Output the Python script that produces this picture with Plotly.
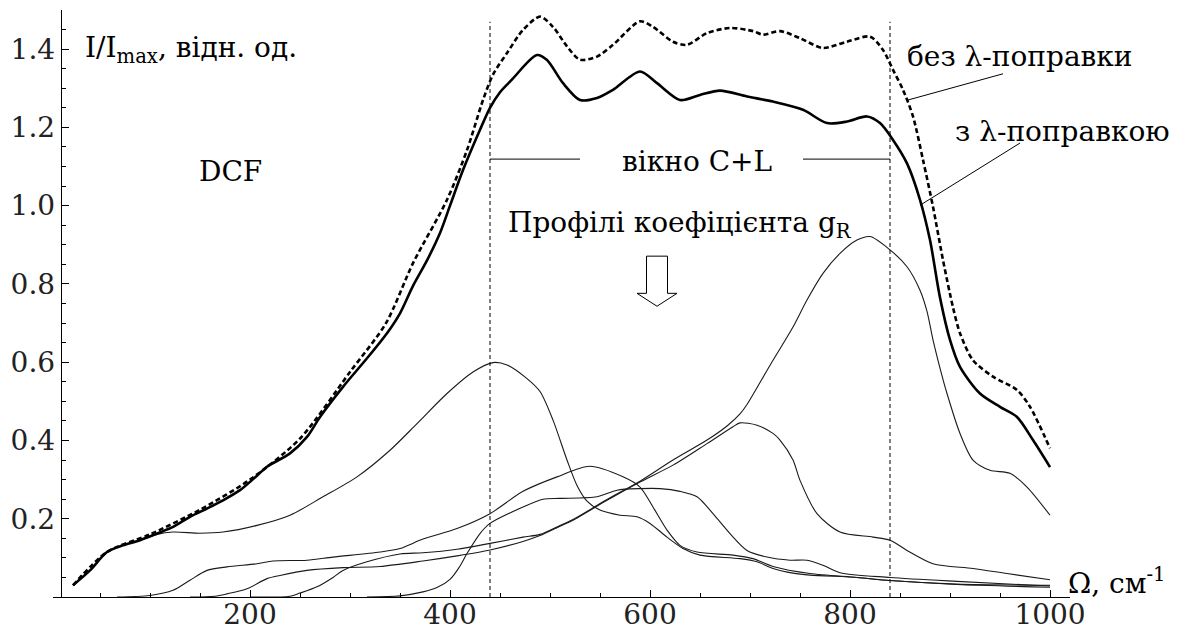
import plotly.graph_objects as go

# ---------------- data ----------------
# thick solid: with lambda-correction
x_corr = [23, 40, 57, 73, 90, 107, 123, 140, 157, 173, 190, 207, 217, 240, 257, 270, 293, 317, 337, 350,
          363, 377, 390, 400, 413, 430, 440, 450, 463, 477, 487, 497, 513, 530, 547, 563, 590, 607, 630,
          650, 670, 697, 723, 753, 777, 797, 817, 830, 843, 857, 870, 880, 890, 900, 910, 930, 950, 967,
          983, 1000]
y_corr = [0.030, 0.068, 0.115, 0.132, 0.145, 0.162, 0.179, 0.205, 0.226, 0.247, 0.273, 0.310, 0.333, 0.367,
          0.409, 0.460, 0.537, 0.610, 0.674, 0.725, 0.795, 0.860, 0.930, 1.000, 1.091, 1.194, 1.250, 1.290,
          1.325, 1.365, 1.385, 1.372, 1.313, 1.270, 1.275, 1.296, 1.343, 1.313, 1.270, 1.283, 1.294, 1.279,
          1.266, 1.245, 1.211, 1.215, 1.228, 1.211, 1.168, 1.108, 1.015, 0.912, 0.765, 0.657, 0.588, 0.520,
          0.486, 0.460, 0.401, 0.332]

# thick dotted: without lambda-correction
x_nocorr = [23, 57, 100, 150, 200, 250, 300, 336, 363, 397, 417, 433, 443, 457, 473, 490, 503, 517, 530,
            547, 563, 590, 603, 623, 637, 657, 680, 703, 713, 730, 750, 773, 797, 820, 833, 843, 853, 863,
            873, 883, 893, 903, 910, 923, 943, 967, 980, 1000]
y_nocorr = [0.030, 0.115, 0.160, 0.223, 0.300, 0.405, 0.575, 0.700, 0.853, 1.015, 1.142, 1.270, 1.335,
            1.390, 1.449, 1.483, 1.457, 1.407, 1.373, 1.381, 1.411, 1.471, 1.457, 1.419, 1.411, 1.441,
            1.454, 1.446, 1.437, 1.446, 1.428, 1.403, 1.419, 1.432, 1.398, 1.347, 1.296, 1.228, 1.117,
            0.997, 0.861, 0.740, 0.674, 0.605, 0.563, 0.529, 0.486, 0.380]

# thin curves: gR profiles
x_g1 = [23, 40, 57, 73, 90, 107, 123, 150, 173, 207, 240, 273, 307, 340, 367, 397, 423, 443, 457, 477, 490,
        503, 517, 527, 537, 550, 570, 587, 600, 617, 633, 650, 690, 707, 723, 743, 760, 807, 840, 907, 1000]
y_g1 = [0.030, 0.068, 0.115, 0.132, 0.145, 0.160, 0.166, 0.163, 0.166, 0.183, 0.209, 0.256, 0.307, 0.375,
        0.443, 0.520, 0.575, 0.599, 0.593, 0.558, 0.525, 0.452, 0.350, 0.285, 0.245, 0.222, 0.209, 0.205,
        0.188, 0.153, 0.124, 0.107, 0.098, 0.090, 0.073, 0.061, 0.056, 0.050, 0.042, 0.033, 0.030]

x_g2 = [67, 100, 123, 140, 157, 177, 207, 223, 257, 283, 330, 350, 373, 407, 440, 473, 507, 540, 573, 590,
        603, 617, 630, 647, 683, 703, 723, 760, 807, 840, 907, 1000]
y_g2 = [0.000, 0.004, 0.017, 0.043, 0.068, 0.077, 0.085, 0.092, 0.094, 0.102, 0.115, 0.124, 0.148, 0.175,
        0.213, 0.270, 0.307, 0.334, 0.307, 0.281, 0.230, 0.171, 0.132, 0.115, 0.107, 0.098, 0.078, 0.060,
        0.050, 0.042, 0.032, 0.025]

x_g3 = [140, 165, 177, 197, 217, 230, 257, 293, 330, 373, 407, 440, 473, 490, 510, 523, 557, 590, 623, 657,
        683, 690, 707, 723, 730, 743, 750, 767, 790, 823, 840, 857, 883, 923, 957, 1000]
y_g3 = [0.000, 0.002, 0.008, 0.021, 0.047, 0.055, 0.068, 0.075, 0.078, 0.092, 0.105, 0.120, 0.142, 0.157,
        0.181, 0.196, 0.247, 0.294, 0.337, 0.392, 0.435, 0.445, 0.439, 0.418, 0.401, 0.350, 0.298, 0.213,
        0.166, 0.153, 0.145, 0.119, 0.085, 0.073, 0.060, 0.044]

x_g4 = [200, 240, 250, 267, 283, 293, 317, 350, 373, 407, 440, 473, 490, 510, 523, 557, 590, 623, 657, 677,
        690, 697, 710, 723, 743, 757, 773, 790, 807, 820, 840, 857, 870, 877, 883, 890, 897, 910, 923, 940,
        960, 977, 1000]
y_g4 = [0.000, 0.002, 0.010, 0.026, 0.050, 0.068, 0.090, 0.110, 0.113, 0.122, 0.137, 0.153, 0.160, 0.183,
        0.198, 0.249, 0.296, 0.350, 0.401, 0.437, 0.468, 0.492, 0.548, 0.605, 0.690, 0.759, 0.827, 0.878,
        0.912, 0.921, 0.887, 0.844, 0.784, 0.730, 0.657, 0.585, 0.520, 0.418, 0.350, 0.324, 0.316, 0.281,
        0.209]

x_g5 = [317, 350, 373, 387, 400, 409, 417, 430, 440, 473, 493, 510, 547, 567, 590, 610, 630, 647, 663, 680,
        697, 717, 740, 757, 773, 790, 840, 907, 1000]
y_g5 = [0.000, 0.003, 0.013, 0.024, 0.045, 0.075, 0.111, 0.162, 0.188, 0.230, 0.250, 0.252, 0.256, 0.273,
        0.277, 0.277, 0.270, 0.256, 0.213, 0.162, 0.119, 0.102, 0.094, 0.094, 0.081, 0.062, 0.050, 0.040,
        0.028]

x_tick_vals = [200, 400, 600, 800, 1000]
x_tick_text = ["200", "400", "600", "800", "1000"]
x_minor_vals = list(range(50, 1001, 50))
y_tick_vals = [0.2, 0.4, 0.6, 0.8, 1.0, 1.2, 1.4]
y_tick_text = ["0.2", "0.4", "0.6", "0.8", "1.0", "1.2", "1.4"]
y_minor_vals = [round(0.05 * i, 2) for i in range(1, 30)]
window_edges = [440, 840]

# ---------------- figure ----------------
FONT = "DejaVu Serif, Liberation Serif, serif"
TXT_SIZE = 28
X_RANGE = [3, 1020]
Y_RANGE = [0, 1.5]
Y_POS = 0.0076
fig = go.Figure()

for xs, ys in [(x_g1, y_g1), (x_g2, y_g2), (x_g3, y_g3), (x_g4, y_g4), (x_g5, y_g5)]:
    fig.add_trace(go.Scatter(x=xs, y=ys, mode="lines", showlegend=False, hoverinfo="skip",
                             line=dict(color="#1a1a1a", width=1.1, shape="spline", smoothing=0.8)))

fig.add_trace(go.Scatter(x=x_nocorr, y=y_nocorr, mode="lines", showlegend=False, hoverinfo="skip",
                         line=dict(color="black", width=2.6, dash="5px,3px", shape="spline", smoothing=0.8)))
fig.add_trace(go.Scatter(x=x_corr, y=y_corr, mode="lines", showlegend=False, hoverinfo="skip",
                         line=dict(color="black", width=2.6, shape="spline", smoothing=0.8)))
# empty trace so the overlay axes (minor ticks) exist
fig.add_trace(go.Scatter(x=[], y=[], xaxis="x2", yaxis="y2", showlegend=False, hoverinfo="skip"))

shapes = []
for xe in window_edges:
    shapes.append(dict(type="line", xref="x", yref="y", x0=xe, x1=xe, y0=0, y1=1.47,
                       line=dict(color="black", width=1, dash="4px,3px")))
shapes.append(dict(type="line", xref="x", yref="y", x0=440, x1=530, y0=1.119, y1=1.119,
                   line=dict(color="black", width=1)))
shapes.append(dict(type="line", xref="x", yref="y", x0=753, x1=840, y0=1.119, y1=1.119,
                   line=dict(color="black", width=1)))
shapes.append(dict(type="line", xref="x", yref="y", x0=858, y0=1.270, x1=953, y1=1.337,
                   line=dict(color="black", width=1)))
shapes.append(dict(type="line", xref="x", yref="y", x0=870, y0=1.001, x1=970, y1=1.160,
                   line=dict(color="black", width=1)))
shapes.append(dict(type="path", xref="x", yref="y",
                   path="M 596.5,0.871 L 617.5,0.871 L 617.5,0.776 L 627,0.776 L 607,0.743 "
                        "L 587,0.776 L 596.5,0.776 Z",
                   line=dict(color="black", width=1), fillcolor="white"))

labels = [
    (33, 1.40, "I/I<sub>max</sub>, відн. од.", "left"),
    (180, 1.087, "DCF", "center"),
    (647, 1.112, "вікно C+L", "center"),
    (630, 0.951, "Профілі коефіцієнта g<sub>R</sub>", "center"),
    (970, 1.381, "без λ-поправки", "center"),
    (1012, 1.189, "з λ-поправкою", "center"),
    (1016, 0.040, "Ω, см<sup>-1</sup>", "left"),
]
annotations = [dict(x=lx, y=ly, text=lt, xanchor=xa, yanchor="middle", xref="x", yref="y",
                    showarrow=False, font=dict(family=FONT, size=TXT_SIZE, color="black"))
               for lx, ly, lt, xa in labels]

fig.update_layout(
    width=1180, height=631,
    margin=dict(l=53, r=110, t=10, b=34, pad=0),
    paper_bgcolor="white", plot_bgcolor="white",
    shapes=shapes, annotations=annotations,
    xaxis=dict(range=X_RANGE, showgrid=False, zeroline=False, showline=True, linecolor="black",
               linewidth=1, ticks="inside", ticklen=7, tickwidth=1, tickcolor="black",
               tickmode="array", tickvals=x_tick_vals, ticktext=x_tick_text, ticklabelstandoff=-8,
               tickfont=dict(family=FONT, size=TXT_SIZE, color="#222"), automargin=False),
    yaxis=dict(range=Y_RANGE, showgrid=False, zeroline=False, showline=True, linecolor="black",
               linewidth=1, anchor="free", position=Y_POS, ticks="inside", ticklen=7, tickwidth=1,
               tickcolor="black", tickmode="array", tickvals=y_tick_vals, ticktext=y_tick_text,
               tickfont=dict(family=FONT, size=TXT_SIZE, color="#222"), automargin=False),
    xaxis2=dict(range=X_RANGE, overlaying="x", anchor="y", side="bottom", showgrid=False,
                zeroline=False, showline=False, ticks="inside", ticklen=4, tickwidth=1,
                tickcolor="black", tickmode="array", tickvals=x_minor_vals, showticklabels=False,
                automargin=False),
    yaxis2=dict(range=Y_RANGE, overlaying="y", anchor="free", position=Y_POS, side="left",
                showgrid=False, zeroline=False, showline=False, ticks="inside", ticklen=4,
                tickwidth=1, tickcolor="black", tickmode="array", tickvals=y_minor_vals,
                showticklabels=False, automargin=False),
)

fig.write_html("out.html", config={"displayModeBar": False},
               post_script="document.body.style.margin='0px';")
